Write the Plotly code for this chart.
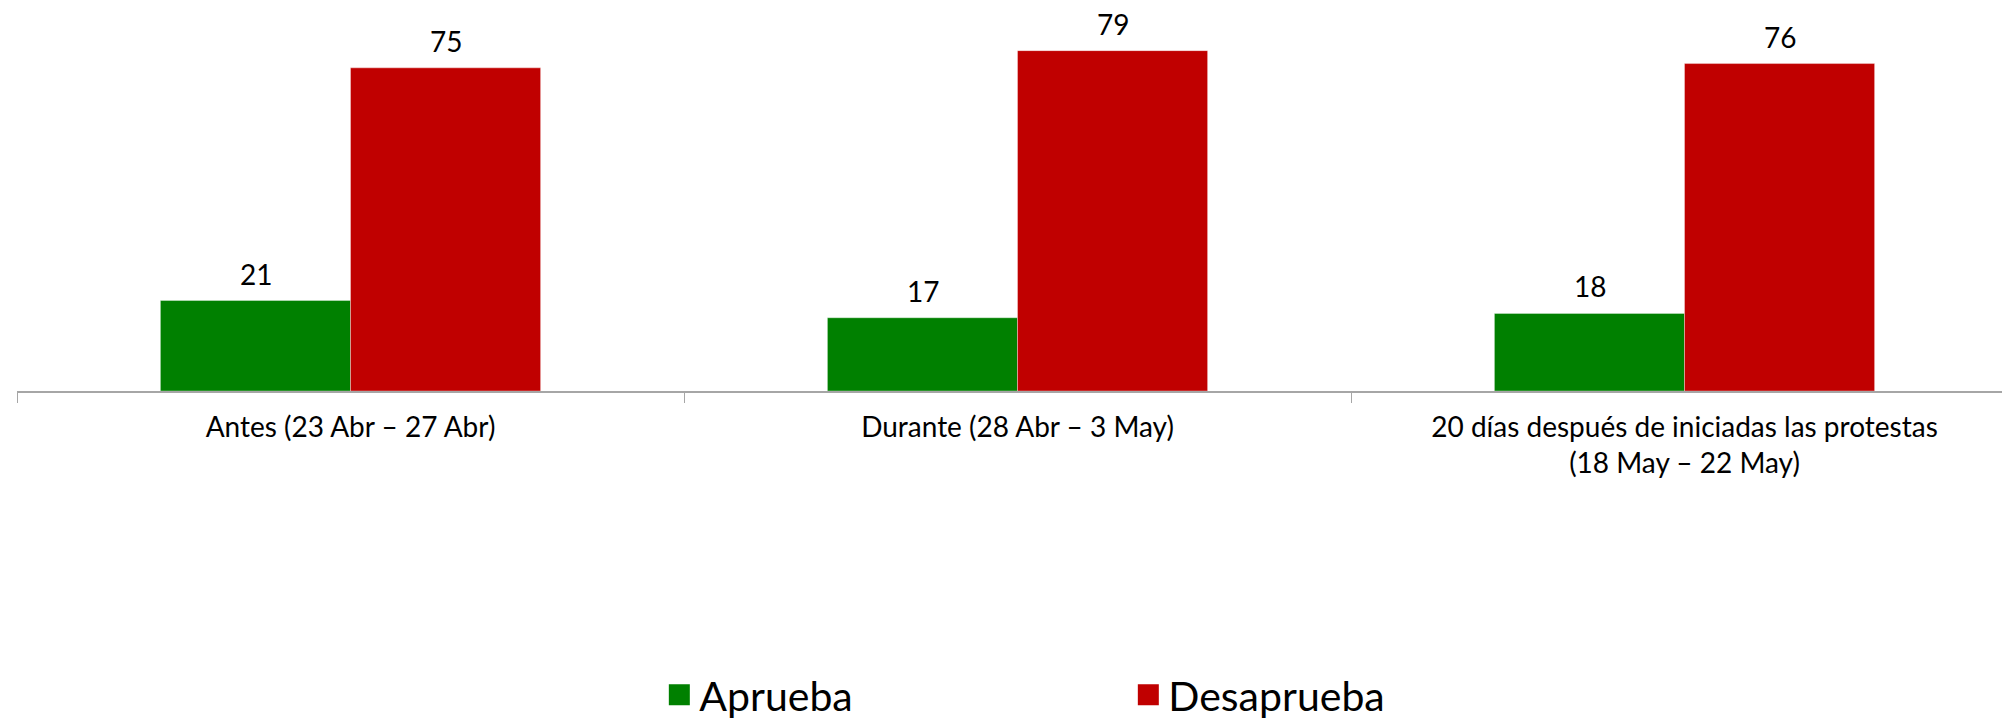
import plotly.graph_objects as go

categories = [
    "Antes (23 Abr – 27 Abr)",
    "Durante (28 Abr – 3 May)",
    "20 días después de iniciadas las protestas<br>(18 May – 22 May)",
]
aprueba = [21, 17, 18]
desaprueba = [75, 79, 76]
series_names = ["Aprueba", "Desaprueba"]
colors = ["#008000", "#C00000"]

FONT = "Lato"

fig = go.Figure()
for name, vals, col in zip(series_names, [aprueba, desaprueba], colors):
    fig.add_trace(go.Bar(
        name=name, x=categories, y=vals, showlegend=False,
        marker=dict(color=col, line=dict(color="rgba(255,255,255,0.35)", width=1)),
    ))
# legend entries with larger square swatches
for name, col in zip(series_names, colors):
    fig.add_trace(go.Scatter(
        name=name, x=[None], y=[None], mode="markers",
        marker=dict(symbol="square", size=16, color=col, line=dict(color=col, width=5)),
    ))

annotations = []
for vals, shift in zip([aprueba, desaprueba], [-95, 95]):
    for c, v in zip(categories, vals):
        annotations.append(dict(
            x=c, y=v, xref="x", yref="y", text=str(v), showarrow=False,
            xshift=shift, yshift=8, yanchor="bottom",
            font=dict(family=FONT, size=28, color="#000000"),
        ))

fig.update_layout(
    width=2010, height=721,
    margin=dict(l=9, r=0, t=3, b=338),
    paper_bgcolor="white", plot_bgcolor="white",
    barmode="group", bargap=0.43, bargroupgap=0,
    font=dict(family=FONT, color="#000000"),
    annotations=annotations,
    legend=dict(
        orientation="h", x=0.321, xanchor="left", y=-0.80, yanchor="middle",
        font=dict(family=FONT, size=41, color="#000000"),
        entrywidth=424, entrywidthmode="pixels", itemsizing="trace",
    ),
    showlegend=True,
)
fig.update_xaxes(
    showline=True, linecolor="#a6a6a6", linewidth=2,
    ticks="outside", tickson="boundaries", ticklen=10, tickcolor="#a6a6a6",
    tickfont=dict(family=FONT, size=28, color="#000000"),
    ticklabelstandoff=10,
    showgrid=False,
)
fig.update_yaxes(range=[0, 88.2], visible=False, showgrid=False)

fig.write_html("out.html")
